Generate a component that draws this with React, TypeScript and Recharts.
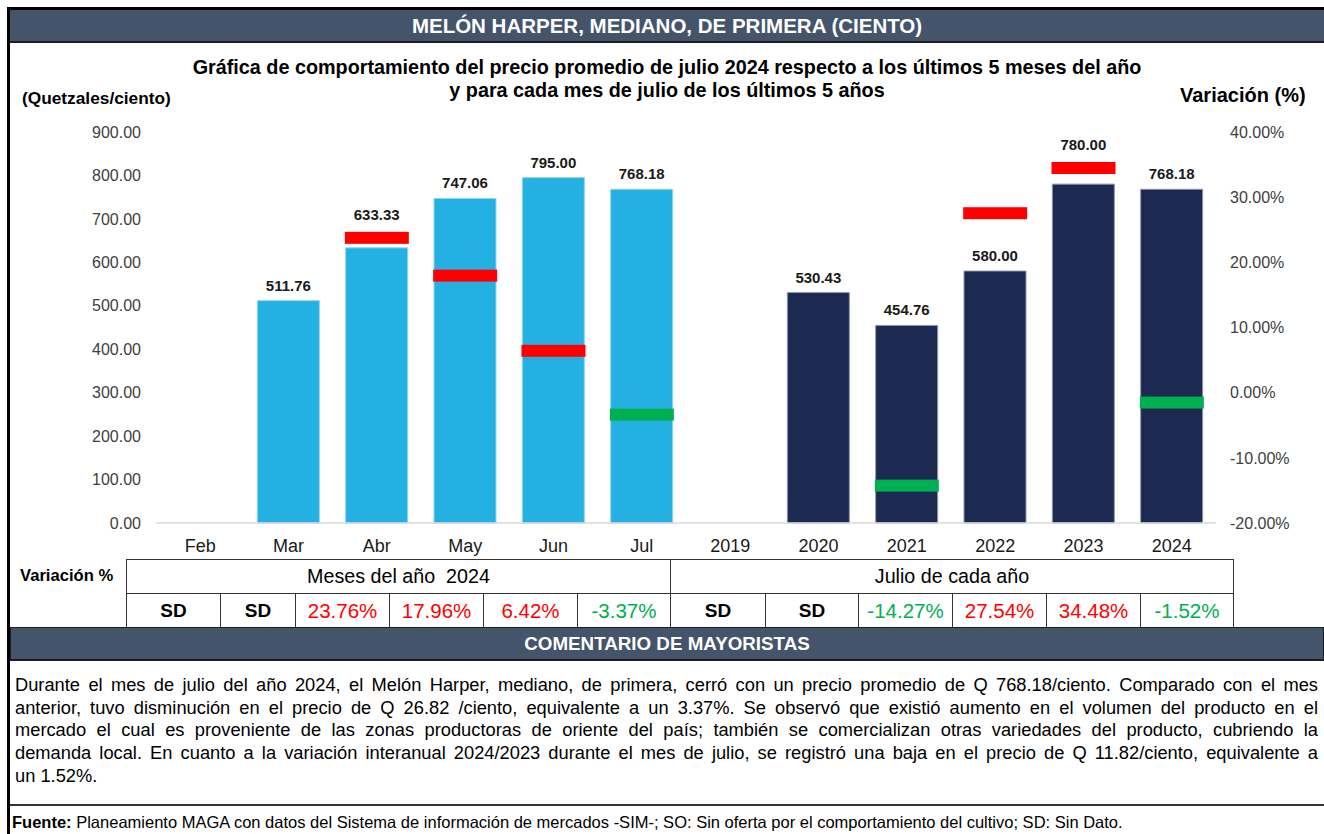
import { ComposedChart, Bar, Scatter, XAxis, YAxis, Cell, LabelList } from "recharts";

// categories on the x axis: last 6 months of 2024, then July of each year
const categories = ["Feb", "Mar", "Abr", "May", "Jun", "Jul", "2019", "2020", "2021", "2022", "2023", "2024"];
const groups = ["mes", "mes", "mes", "mes", "mes", "mes", "anio", "anio", "anio", "anio", "anio", "anio"];
// average price, quetzales per hundred (null = no data)
const prices = [null, 511.76, 633.33, 747.06, 795.0, 768.18, null, 530.43, 454.76, 580.0, 780.0, 768.18];
// variation in %, null = SD (sin dato)
const variations = [null, null, 23.76, 17.96, 6.42, -3.37, null, null, -14.27, 27.54, 34.48, -1.52];

const leftTicks = [0, 100, 200, 300, 400, 500, 600, 700, 800, 900];
const rightTicks = [-20, -10, 0, 10, 20, 30, 40];

const LEFT_MAX = 900;
const RIGHT_MIN = -20;
const RIGHT_MAX = 40;

const MONTH_BLUE = "#25b0e3";
const YEAR_NAVY = "#1c2951";
const RED = "#ff0000";
const GREEN = "#00b050";
const SLATE = "#44546a";
const FONT = "'Liberation Sans', Arial, sans-serif";

const data = categories.map((c, i) => ({
  name: c,
  price: prices[i],
  variation: variations[i],
}));

// column edges of the variation table (px)
const colEdges = [126, 220, 295, 389, 483, 577, 670, 765, 858, 952, 1046, 1140, 1233];

const commentLines = [
  "Durante el mes de julio del año 2024, el Melón Harper, mediano, de primera, cerró con un precio promedio de Q 768.18/ciento. Comparado con el mes",
  "anterior, tuvo disminución en el precio de Q 26.82 /ciento, equivalente a un 3.37%. Se observó que existió aumento en el volumen del producto en el",
  "mercado el cual es proveniente de las zonas productoras de oriente del país; también se comercializan otras variedades del producto, cubriendo la",
  "demanda local. En cuanto a la variación interanual 2024/2023 durante el mes de julio, se registró una baja en el precio de Q 11.82/ciento, equivalente a",
  "un 1.52%.",
];

// label content: value passed is the category name, price looked up from it
function PriceLabel(props: any) {
  const vb = props.viewBox || props;
  const i = categories.indexOf(String(props.value));
  const price = i >= 0 ? prices[i] : null;
  if (price == null || !vb || !vb.width) return null;
  const cx = vb.x + vb.width / 2;
  const top = vb.y;
  const zeroY = vb.y + vb.height;
  const plotH = (vb.height / price) * LEFT_MAX;
  let baseY = top - 10;
  const v = variations[i];
  if (v != null) {
    const my = zeroY - ((v - RIGHT_MIN) / (RIGHT_MAX - RIGHT_MIN)) * plotH;
    if (my > top - 32 && my < top + 10) baseY = my - 18;
  }
  return (
    <text x={cx} y={baseY} textAnchor="middle" fontSize={15} fontWeight="bold" fill="#1a1a1a" fontFamily={FONT}>
      {price.toFixed(2)}
    </text>
  );
}

function Marker(props: any) {
  const { cx, cy, payload } = props;
  if (!payload || payload.variation == null || cx == null || cy == null || isNaN(cy)) return <g />;
  return <rect x={cx - 32} y={cy - 6} width={64} height={12} fill={payload.variation > 0 ? RED : GREEN} />;
}

function fmtVar(v: number | null) {
  return v == null ? "SD" : `${v.toFixed(2)}%`;
}

export default function App() {
  const cell = (left: number, right: number, top: number, h: number) => ({
    position: "absolute" as const,
    left,
    top,
    width: right - left + 1,
    height: h + 1,
    boxSizing: "border-box" as const,
    border: "1px solid #333",
    display: "flex",
    alignItems: "center",
    justifyContent: "center",
  });

  return (
    <div
      style={{
        position: "absolute",
        left: 0,
        top: 0,
        width: 1324,
        height: 834,
        background: "#fff",
        fontFamily: FONT,
        overflow: "hidden",
      }}
    >
      {/* outer frame */}
      <div
        style={{
          position: "absolute",
          left: 7,
          top: 7,
          width: 1330,
          height: 840,
          borderLeft: "3px solid #000",
          borderTop: "3px solid #000",
        }}
      />
      {/* header */}
      <div
        style={{
          position: "absolute",
          left: 10,
          top: 10,
          width: 1314,
          height: 33,
          background: SLATE,
          borderBottom: "2px solid #1e1e1e",
          boxSizing: "border-box",
          color: "#fff",
          fontWeight: "bold",
          fontSize: 20.5,
          display: "flex",
          alignItems: "center",
          justifyContent: "center",
        }}
      >
        MELÓN HARPER, MEDIANO, DE PRIMERA (CIENTO)
      </div>

      {/* chart title */}
      <div
        style={{
          position: "absolute",
          left: 0,
          width: 1334,
          top: 56,
          textAlign: "center",
          fontWeight: "bold",
          fontSize: 19.8,
          lineHeight: "23px",
          color: "#000",
        }}
      >
        Gráfica de comportamiento del precio promedio de julio 2024 respecto a los últimos 5 meses del año
        <br />y para cada mes de julio de los últimos 5 años
      </div>
      <div style={{ position: "absolute", left: 22, top: 88, fontWeight: "bold", fontSize: 17.3, color: "#000" }}>
        (Quetzales/ciento)
      </div>
      <div style={{ position: "absolute", left: 1180, top: 84, fontWeight: "bold", fontSize: 20, color: "#000" }}>
        Variación (%)
      </div>

      <div style={{ position: "absolute", left: 0, top: 0 }}>
        <ComposedChart
          width={1324}
          height={563}
          data={data}
          margin={{ top: 132, right: 58, bottom: 0, left: 86 }}
        >
          <XAxis
            dataKey="name"
            interval={0}
            height={40}
            tickLine={false}
            tickSize={0}
            tickMargin={16}
            axisLine={{ stroke: "#d9d9d9", strokeWidth: 1.5 }}
            tick={{ fill: "#1a1a1a", fontSize: 18, fontFamily: FONT }}
          />
          <YAxis
            yAxisId="left"
            domain={[0, LEFT_MAX]}
            ticks={leftTicks}
            width={70}
            tickLine={false}
            axisLine={false}
            tickSize={0}
            tickMargin={15}
            tickFormatter={(v: number) => v.toFixed(2)}
            tick={{ fill: "#404040", fontSize: 16, fontFamily: FONT }}
          />
          <YAxis
            yAxisId="right"
            orientation="right"
            domain={[RIGHT_MIN, RIGHT_MAX]}
            ticks={rightTicks}
            width={50}
            tickLine={false}
            axisLine={false}
            tickSize={0}
            tickMargin={14}
            tickFormatter={(v: number) => `${v.toFixed(2)}%`}
            tick={{ fill: "#404040", fontSize: 16, fontFamily: FONT, textAnchor: "start" }}
          />
          <Bar yAxisId="left" dataKey="price" barSize={62} isAnimationActive={false}>
            {data.map((d, i) => (
              <Cell
                key={d.name}
                fill={groups[i] === "mes" ? MONTH_BLUE : YEAR_NAVY}
                stroke={groups[i] === "mes" ? "#8fd3f0" : "#8f97b0"}
                strokeWidth={1}
              />
            ))}
            <LabelList dataKey="name" content={<PriceLabel />} />
          </Bar>
          <Scatter yAxisId="right" dataKey="variation" shape={(p: any) => <Marker {...p} />} isAnimationActive={false} />
        </ComposedChart>
      </div>

      {/* variation table */}
      <div
        style={{
          position: "absolute",
          left: 20,
          top: 566,
          fontWeight: "bold",
          fontSize: 16.6,
          color: "#000",
        }}
      >
        Variación %
      </div>
      <div style={{ ...cell(colEdges[0], colEdges[6], 559, 34), fontSize: 19.7, whiteSpace: "pre" }}>
        {"Meses del año  2024"}
      </div>
      <div style={{ ...cell(colEdges[6], colEdges[12], 559, 34), fontSize: 19.7 }}>Julio de cada año</div>
      {variations.map((v, i) => (
        <div
          key={i}
          style={{
            ...cell(colEdges[i], colEdges[i + 1], 593, 34),
            fontSize: v == null ? 19 : 20.5,
            fontWeight: v == null ? "bold" : "normal",
            color: v == null ? "#000" : v > 0 ? RED : GREEN,
          }}
        >
          {fmtVar(v)}
        </div>
      ))}

      {/* comment header */}
      <div
        style={{
          position: "absolute",
          left: 10,
          top: 627,
          width: 1314,
          height: 34,
          background: SLATE,
          border: "1px solid #1e1e1e",
          borderBottomWidth: 2,
          boxSizing: "border-box",
          color: "#fff",
          fontWeight: "bold",
          fontSize: 18.8,
          display: "flex",
          alignItems: "center",
          justifyContent: "center",
        }}
      >
        COMENTARIO DE MAYORISTAS
      </div>

      {/* comment text */}
      <div style={{ position: "absolute", left: 15, top: 674, width: 1303, fontSize: 18.3, lineHeight: "22.7px", color: "#000" }}>
        {commentLines.map((line, i) => (
          <div
            key={i}
            style={{
              whiteSpace: "nowrap",
              textAlign: i < commentLines.length - 1 ? "justify" : "left",
              textAlignLast: i < commentLines.length - 1 ? "justify" : "left",
            }}
          >
            {line}
          </div>
        ))}
      </div>

      {/* footer */}
      <div style={{ position: "absolute", left: 10, top: 804, width: 1314, height: 2, background: "#333" }} />
      <div style={{ position: "absolute", left: 12, top: 813, fontSize: 16.5, color: "#000", whiteSpace: "nowrap" }}>
        <b>Fuente:</b> Planeamiento MAGA con datos del Sistema de información de mercados -SIM-; SO: Sin oferta por el
        comportamiento del cultivo; SD: Sin Dato.
      </div>
    </div>
  );
}
